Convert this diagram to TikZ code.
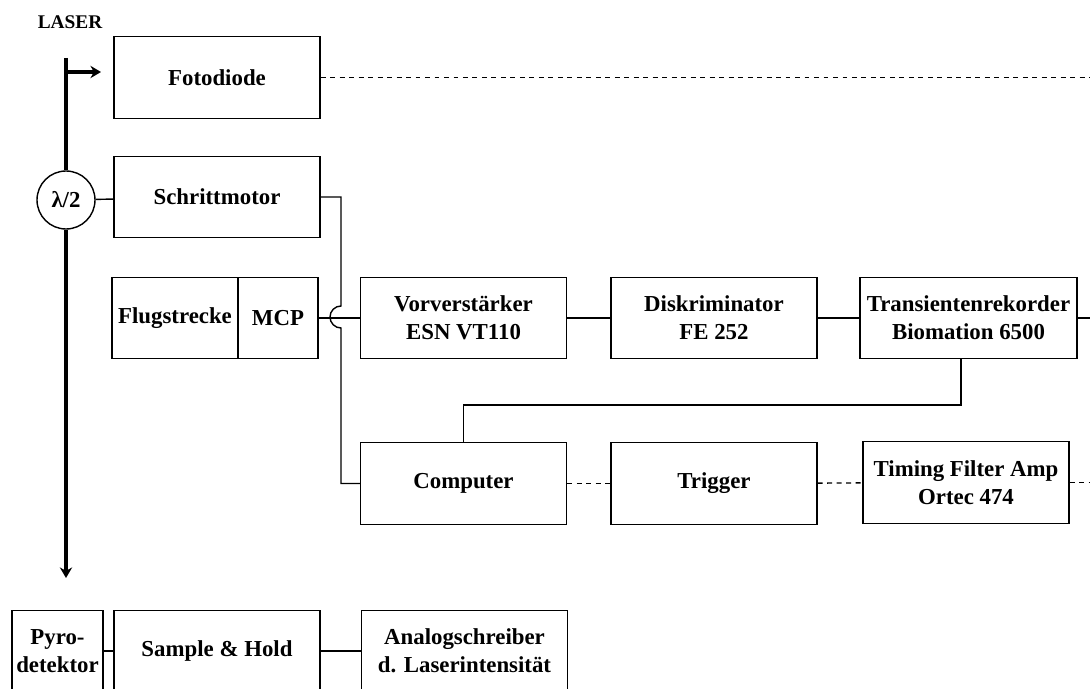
\documentclass[tikz,border=0pt]{standalone}
\usepackage{fontspec}
\setmainfont{Liberation Serif}
\usetikzlibrary{arrows.meta}
\begin{document}
\begin{tikzpicture}[x=0.02cm,y=-0.02cm,
                       line width=0.8pt,
                       box/.style={rectangle,draw,minimum width=4.12cm,minimum height=1.63cm,inner sep=1pt,align=center,
                                   font=\bfseries\fontsize{13}{16}\selectfont},
                       waveplate/.style={circle,draw,minimum size=1.16cm,inner sep=0pt,font=\bfseries\fontsize{13}{16}\selectfont},
                       beam/.style={line width=2.4pt},
                       signal/.style={dash pattern=on 2.8pt off 2.6pt}
                      ]
  \useasboundingbox (0,0) rectangle (1090,689);
  \clip (0,0) rectangle (1090,689);

  \node[font=\bfseries\fontsize{11}{13}\selectfont] (laser) at (70,22) {LASER};
  \node[waveplate] (lam) at (66,200) {λ/2};

  \node[box] (foto) at (217,77.5) {Fotodiode};
  \node[box] (schritt) at (217,197) {Schrittmotor};
  \node[box,minimum width=2.52cm] (flug) at (175,318) {Flugstrecke};
  \node[box,minimum width=1.6cm] (mcp) at (278,318) {MCP};
  \node[box] (vor) at (463.5,318) {Vorverstärker\\ESN VT110};
  \node[box] (disk) at (714,318) {Diskriminator\\FE 252};
  \node[box,minimum width=4.34cm] (trans) at (968.5,318) {Transientenrekorder\\Biomation 6500};
  \node[box] (comp) at (463.5,483.5) {Computer};
  \node[box] (trig) at (714,483.5) {Trigger};
  \node[box] (timing) at (966,482.5) {Timing Filter Amp\\Ortec 474};
  \node[box,minimum width=1.82cm] (pyro) at (57.5,651) {Pyro-\\detektor};
  \node[box] (sample) at (217,651) {Sample \& Hold};
  \node[box] (analog) at (464.5,651) {Analogschreiber\\d. Laserintensität};

  \coordinate (beamtop) at (66,58);
  \coordinate (split) at (66,72);
  \coordinate (splitend) at (101,72);
  \coordinate (beamend) at (66,578);
  \coordinate (hop) at (341,306);
  \coordinate (tap) at (961,405);
  \coordinate (out1) at (1092,77.5);
  \coordinate (out2) at (1092,318);
  \coordinate (out3) at (1092,482.5);

  \draw[beam] (beamtop) -- (lam.north);
  \draw[beam,-{Stealth[length=6pt,width=7pt]}] (lam.south) -- (beamend);
  \draw[beam,-{Stealth[length=6pt,width=7pt]}] (split) -- (splitend);

  \path%
   (lam) edge (schritt)
   (mcp) edge (vor)
   (vor) edge (disk)
   (disk) edge (trans)
   (trans.east) edge (out2)
   (pyro) edge (sample)
   (sample) edge (analog);

  \path[signal]%
   (foto.east) edge (out1)
   (comp) edge (trig)
   (trig) edge (timing)
   (timing.east) edge (out3);

  \draw (schritt.east) -| (hop) arc[start angle=90,end angle=270,radius=0.22cm] |- (comp.west);
  \draw (trans.south -| tap) -- (tap) -| (comp.north);
\end{tikzpicture}
\end{document}
